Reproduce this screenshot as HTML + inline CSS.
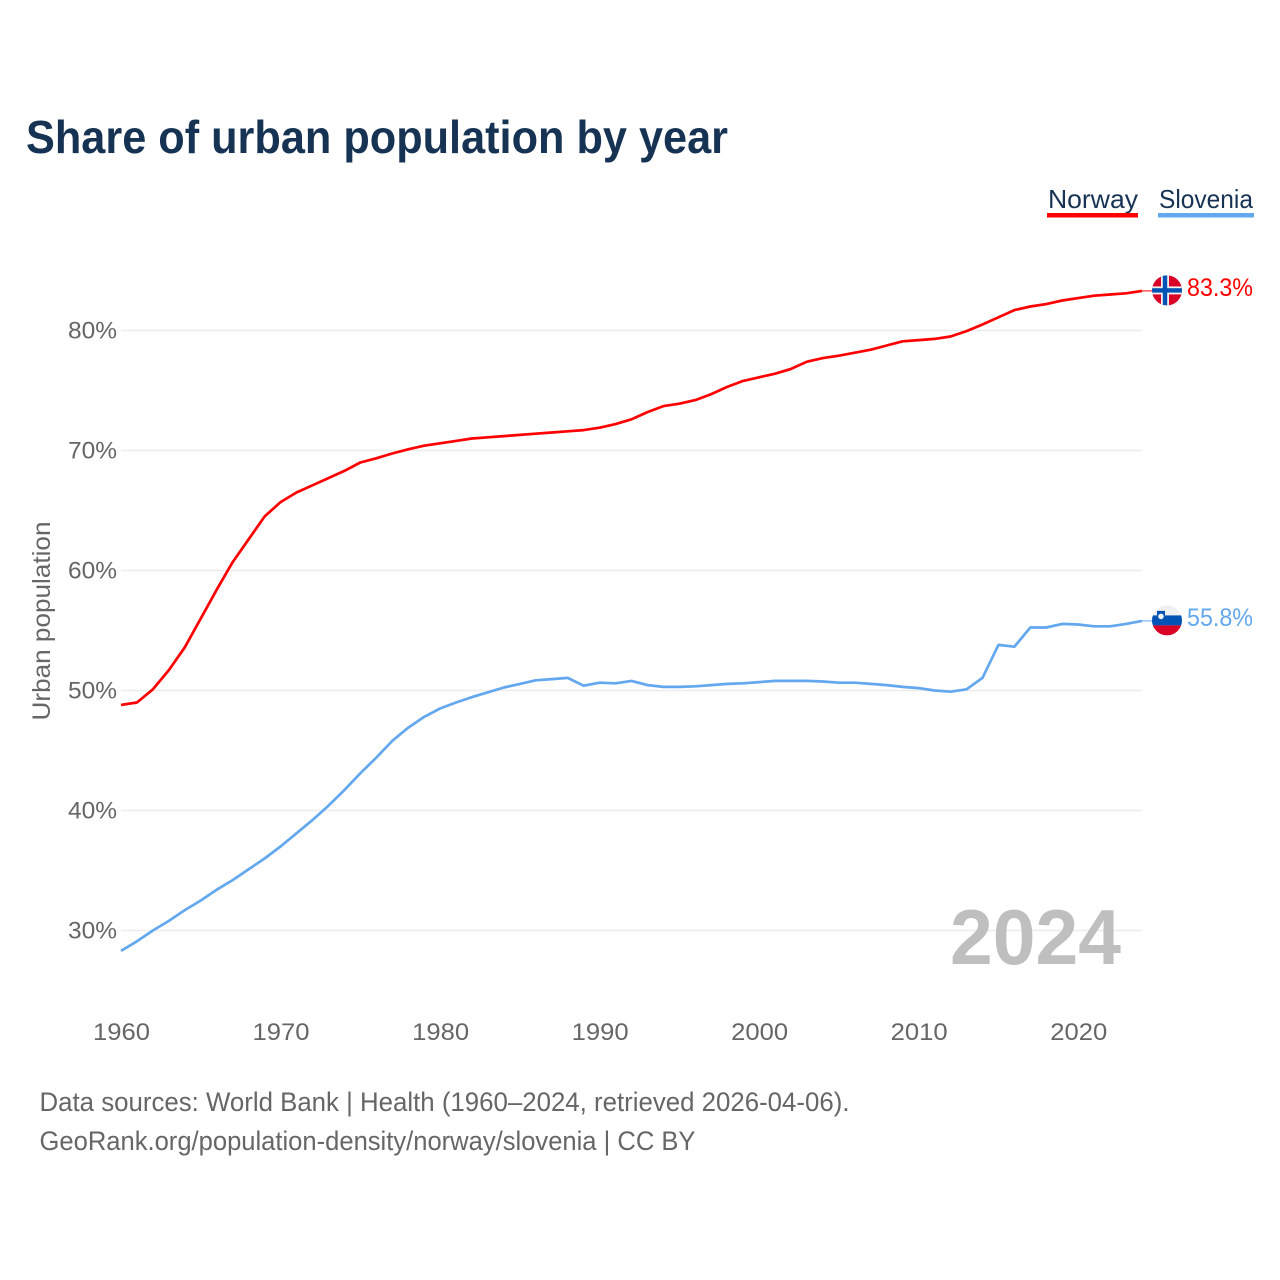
<!DOCTYPE html>
<html lang="en">
<head>
<meta charset="utf-8">
<title>Share of urban population by year</title>
<style>
  html, body { margin: 0; padding: 0; background: #fff; }
  svg { display: block; font-family: "Liberation Sans", sans-serif; }
</style>
</head>
<body>
<svg id="chart" xmlns="http://www.w3.org/2000/svg" width="1280" height="1280" viewBox="0 0 1280 1280">
  <rect x="0" y="0" width="1280" height="1280" fill="#ffffff"/>
  <text x="26" y="153" font-size="46" font-weight="700" fill="#173354" textLength="702" lengthAdjust="spacingAndGlyphs">Share of urban population by year</text>

  <g>
    <text x="1048" y="208" font-size="26" fill="#173354" textLength="90" lengthAdjust="spacingAndGlyphs">Norway</text>
    <rect x="1047" y="213" width="91" height="4.5" fill="#ff0000"/>
  </g>
  <g>
    <text x="1159" y="208" font-size="26" fill="#173354" textLength="94" lengthAdjust="spacingAndGlyphs">Slovenia</text>
    <rect x="1158" y="213" width="96" height="4.5" fill="#63a8ef"/>
  </g>

  <text transform="translate(50,720.5) rotate(-90)" font-size="25" fill="#666666" textLength="199" lengthAdjust="spacingAndGlyphs">Urban population</text>

  <g id="grid"></g>
  <g id="y-ticks"></g>
  <g id="x-ticks"></g>

  <text x="950" y="964" font-size="78" font-weight="700" fill="#bfbfbf" textLength="171" lengthAdjust="spacingAndGlyphs">2024</text>

  <g id="series"></g>

  <defs>
    <clipPath id="flag-clip"><circle cx="0" cy="0" r="15"/></clipPath>
  </defs>

  <g id="flag-norway">
    <g clip-path="url(#flag-clip)">
      <rect x="-15" y="-15" width="30" height="30" fill="#d80027"/>
      <rect x="-6" y="-15" width="8" height="30" fill="#f0f0f0"/>
      <rect x="-15" y="-4" width="30" height="8" fill="#f0f0f0"/>
      <rect x="-4.2" y="-15" width="4.4" height="30" fill="#0052b4"/>
      <rect x="-15" y="-2.2" width="30" height="4.4" fill="#0052b4"/>
    </g>
  </g>
  <g id="flag-slovenia">
    <g clip-path="url(#flag-clip)">
      <rect x="-15" y="-15" width="30" height="10" fill="#f0f0f0"/>
      <rect x="-15" y="-5" width="30" height="10" fill="#0052b4"/>
      <rect x="-15" y="5" width="30" height="10" fill="#d80027"/>
      <path d="M-10,-9.5 h8 v4.5 a4,4 0 0 1 -8,0 z" fill="#0052b4"/>
      <circle cx="-6" cy="-4" r="2.8" fill="#f0f0f0"/>
    </g>
  </g>

  <text id="value-norway" x="1187" font-size="25" fill="#ff0000" textLength="66" lengthAdjust="spacingAndGlyphs"></text>
  <text id="value-slovenia" x="1187" font-size="25" fill="#63a8ef" textLength="66" lengthAdjust="spacingAndGlyphs"></text>

  <text x="39.5" y="1111" font-size="27" fill="#666666" textLength="810" lengthAdjust="spacingAndGlyphs">Data sources: World Bank | Health (1960–2024, retrieved 2026-04-06).</text>
  <text x="39.5" y="1150" font-size="27" fill="#666666" textLength="656" lengthAdjust="spacingAndGlyphs">GeoRank.org/population-density/norway/slovenia | CC BY</text>
</svg>

<script>
const startYear = 1960;
const norwayValues = [48.8,49.0,50.1,51.7,53.6,56.0,58.4,60.7,62.6,64.5,65.7,66.5,67.1,67.7,68.3,69.0,69.35,69.75,70.1,70.4,70.6,70.8,71.0,71.1,71.2,71.3,71.4,71.5,71.6,71.7,71.9,72.2,72.6,73.2,73.7,73.9,74.2,74.7,75.3,75.8,76.1,76.4,76.8,77.4,77.7,77.9,78.15,78.4,78.75,79.1,79.2,79.3,79.5,79.95,80.5,81.1,81.7,82.0,82.2,82.5,82.7,82.9,83.0,83.1,83.3];
const sloveniaValues = [28.3,29.1,30.0,30.8,31.7,32.5,33.4,34.2,35.1,36.0,37.0,38.1,39.2,40.4,41.7,43.1,44.4,45.8,46.9,47.8,48.5,49.0,49.45,49.85,50.25,50.55,50.85,50.95,51.05,50.4,50.65,50.6,50.8,50.45,50.3,50.3,50.35,50.45,50.55,50.6,50.7,50.8,50.8,50.8,50.75,50.65,50.65,50.55,50.45,50.3,50.2,50.0,49.9,50.1,51.05,53.8,53.65,55.25,55.25,55.55,55.5,55.35,55.35,55.55,55.8];
const yTickValues = [30,40,50,60,70,80];
const xTickValues = [1960,1970,1980,1990,2000,2010,2020];

const SVG_NS = 'http://www.w3.org/2000/svg';
function xScale(year) { return 121 + (year - 1960) * (1021 / 64); }
function yScale(value) { return 330.5 + (80 - value) * 12; }

function make(tag, attrs, parent) {
  const el = document.createElementNS(SVG_NS, tag);
  for (const k in attrs) el.setAttribute(k, attrs[k]);
  parent.appendChild(el);
  return el;
}

const gridGroup = document.getElementById('grid');
const yTickGroup = document.getElementById('y-ticks');
const xTickGroup = document.getElementById('x-ticks');
const seriesGroup = document.getElementById('series');

yTickValues.forEach(function (v) {
  const line = make('line', { x1: xScale(1960), x2: xScale(2024), y1: yScale(v), y2: yScale(v), stroke: '#ececec', 'stroke-width': 1.5 }, gridGroup);
  
  
  const label = make('text', { x: 117, y: yScale(v) + 8, 'text-anchor': 'end', 'font-size': 24, fill: '#666666', textLength: 49, lengthAdjust: 'spacingAndGlyphs' }, yTickGroup);
  
  
  label.textContent = v + '%';
});

xTickValues.forEach(function (year) {
  const label = make('text', { x: xScale(year) + 0.5, y: 1040, 'text-anchor': 'middle', 'font-size': 24, fill: '#666666', textLength: 57, lengthAdjust: 'spacingAndGlyphs' }, xTickGroup);
  
  
  label.textContent = String(year);
});

function drawSeries(values, color, key) {
  const pts = values.map(function (v, i) {
    return xScale(startYear + i).toFixed(2) + ',' + yScale(v).toFixed(2);
  }).join(' ');
  const line = make('polyline', { points: pts, fill: 'none', stroke: color, 'stroke-width': 2.7, 'stroke-linejoin': 'round', 'stroke-linecap': 'butt' }, seriesGroup);
  
  
  const last = values[values.length - 1];
  const lastX = xScale(startYear + values.length - 1);
  const tail = make('line', { x1: lastX, x2: lastX + 12, y1: yScale(last), y2: yScale(last), stroke: color, 'stroke-width': 1 }, seriesGroup);
  
  
  document.getElementById('flag-' + key).setAttribute('transform', 'translate(' + (lastX + 25) + ',' + (yScale(last) - 0.5) + ')');
  const valueLabel = document.getElementById('value-' + key);
  valueLabel.setAttribute('y', yScale(last) + 5);
  valueLabel.textContent = last.toFixed(1) + '%';
}

drawSeries(sloveniaValues, '#63a8ef', 'slovenia');
drawSeries(norwayValues, '#ff0000', 'norway');
</script>
</body>
</html>
